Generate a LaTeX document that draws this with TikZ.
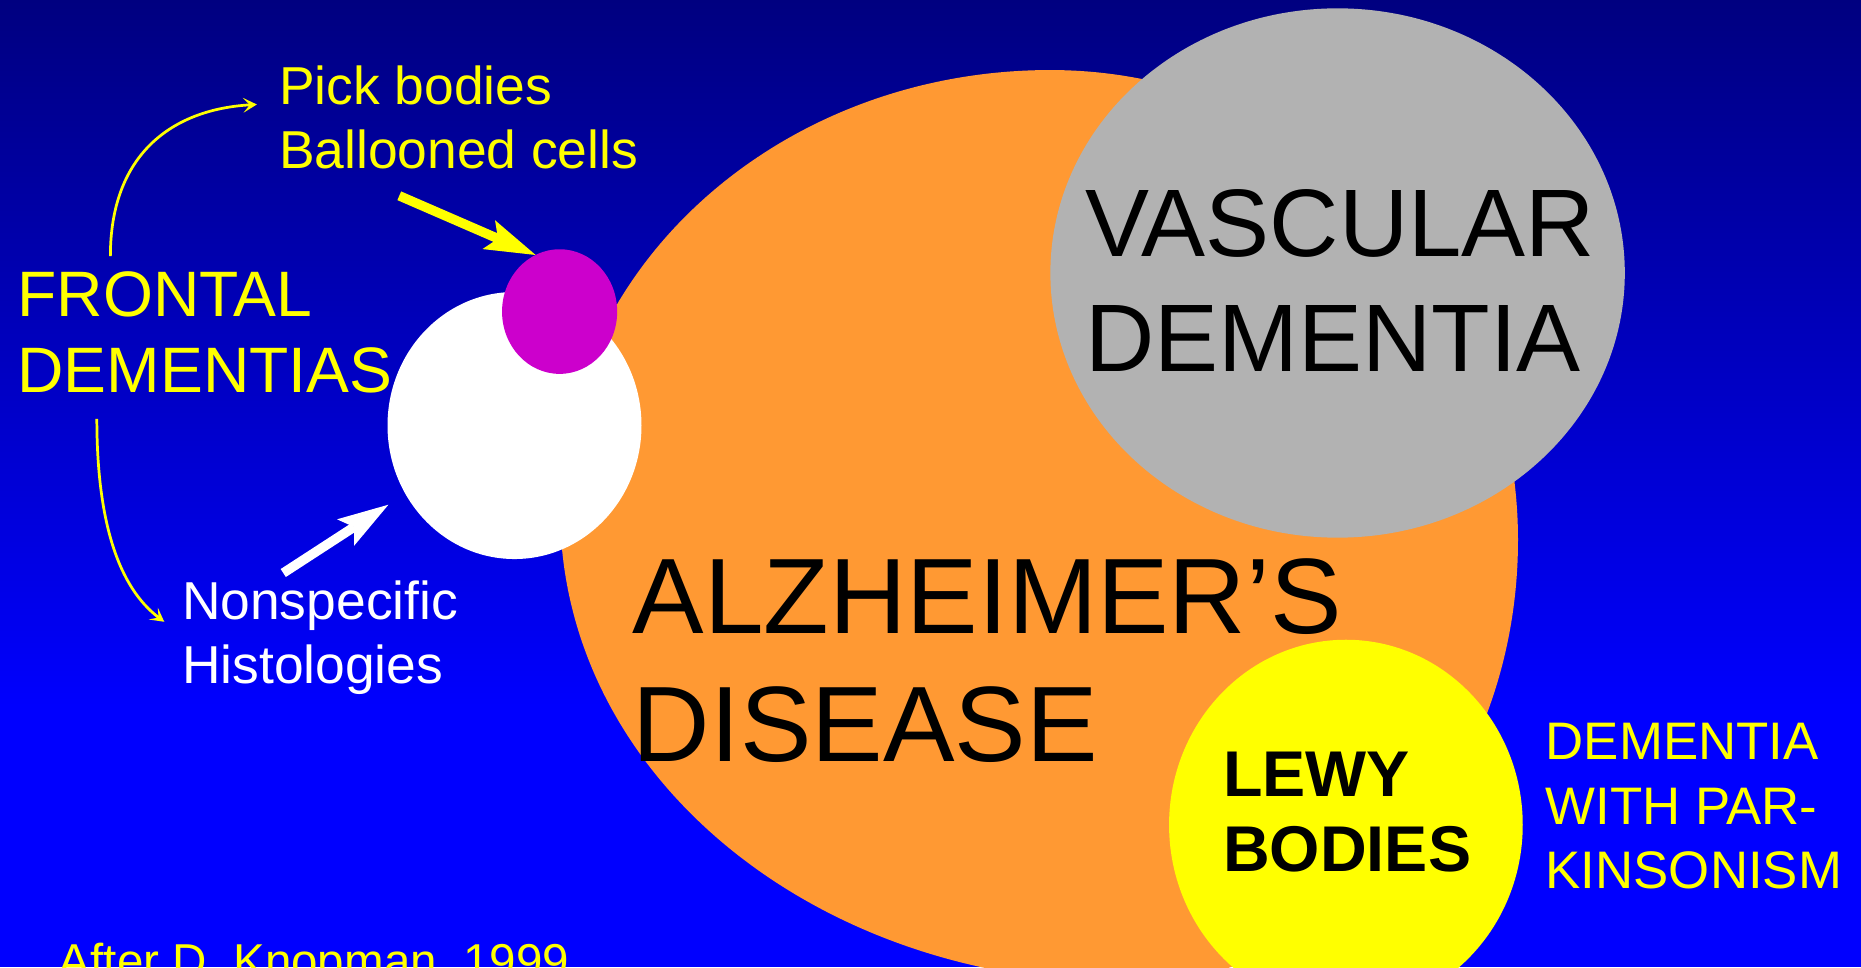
\documentclass[tikz,border=0pt]{standalone}
\usepackage{fontspec}
\setmainfont{Liberation Sans}
\usetikzlibrary{arrows.meta,shapes.geometric}
\definecolor{slidenavy}{RGB}{0,0,128}
\definecolor{slideblue}{RGB}{0,0,255}
\definecolor{adorange}{RGB}{255,153,51}
\definecolor{vdgray}{RGB}{178,178,178}
\definecolor{pickmagenta}{RGB}{204,0,204}
\definecolor{lewyyellow}{RGB}{255,255,0}
\tikzset{
  txt/.style={inner sep=0pt,anchor=base west,align=left},
  blob/.style={ellipse,inner sep=0pt,outer sep=0pt},
  thinarrow/.style={draw=lewyyellow,line width=.23mm,-{Stealth[length=1.15mm,width=1.25mm,inset=.55mm]}},
  fatarrow/.style={line width=.8mm,-{Stealth[length=4.3mm,width=2.65mm,inset=.85mm,line width=0pt]}}
}

\begin{document}
\begin{tikzpicture}[x=.1mm,y=-.1mm]
    \useasboundingbox (0,0) rectangle (1568,815);
    \clip (0,0) rectangle (1568,815);
    \shade[top color=slidenavy,bottom color=slideblue] (0,0) rectangle (1568,600);
    \fill[slideblue] (0,599) rectangle (1568,815);
    \fill[adorange] (885,59) .. controls (657,59) and (472,225) .. (472,430)
      .. controls (472,653) and (686,828) .. (950,828)
      .. controls (1132,828) and (1279,661) .. (1279,455)
      .. controls (1279,236) and (1103,59) .. (885,59) -- cycle;
    \node[blob,fill=vdgray,minimum width=48.4mm,minimum height=44.6mm] (vascular) at (1127,230) {};
    \node[blob,fill=lewyyellow,minimum width=29.8mm,minimum height=31.2mm] (lewy) at (1134,695) {};
    \node[blob,fill=white,minimum width=21.4mm,minimum height=22.5mm] (nonspec) at (433.5,358.5) {};
    \node[blob,fill=pickmagenta,minimum width=9.7mm,minimum height=10.5mm] (pick) at (471.5,262.5) {};

    \node[txt,text=lewyyellow,font=\fontsize{12.8pt}{15.2pt}\selectfont] (pickbodies) at (234.4,141.8) {Pick bodies\\Ballooned cells};
    \node[txt,text=lewyyellow,font=\fontsize{15.4pt}{18.3pt}\selectfont] (frontal) at (14,330.6) {FRONTAL\\DEMENTIAS};
    \node[txt,text=white,font=\fontsize{12.8pt}{15.2pt}\selectfont] (nonspecific) at (152.7,575.5) {Nonspecific\\Histologies};
    \node[txt,font=\fontsize{25.7pt}{30.7pt}\selectfont] (alzheimer) at (532.5,641.7) {ALZHEIMER’S\\DISEASE};
    \node[txt,font=\fontsize{23pt}{27.6pt}\selectfont] (vdtext) at (913.5,313) {VASCULAR\\DEMENTIA};
    \node[txt,font=\bfseries\fontsize{15.5pt}{18pt}\selectfont] (lewytext) at (1030,734.4) {LEWY\\BODIES};
    \node[txt,text=lewyyellow,font=\fontsize{12.66pt}{15.4pt}\selectfont] (parkinsonism) at (1301.6,748.5) {DEMENTIA\\WITH PAR-\\KINSONISM};
    \node[txt,text=lewyyellow,font=\fontsize{11.4pt}{13pt}\selectfont] (source) at (49,823.6) {After D. Knopman, 1999};

    \draw[thinarrow] ([shift={(79,-12)}]frontal.north west) .. controls (93,130) and (145,92) .. ([shift={(-18,-11)}]pickbodies.west);
    \draw[thinarrow] ([shift={(67.6,21)}]frontal.south west) .. controls (81.6,440) and (100,495) .. ([shift={(-14.3,-13.3)}]nonspecific.west);
    \draw[fatarrow,lewyyellow] ([shift={(-50,22)}]pickbodies.south) -- (pick.113);
    \draw[fatarrow,white,shorten >=1.7mm] ([shift={(-31,-6)}]nonspecific.north) -- (nonspec.212);
\end{tikzpicture}
\end{document}
